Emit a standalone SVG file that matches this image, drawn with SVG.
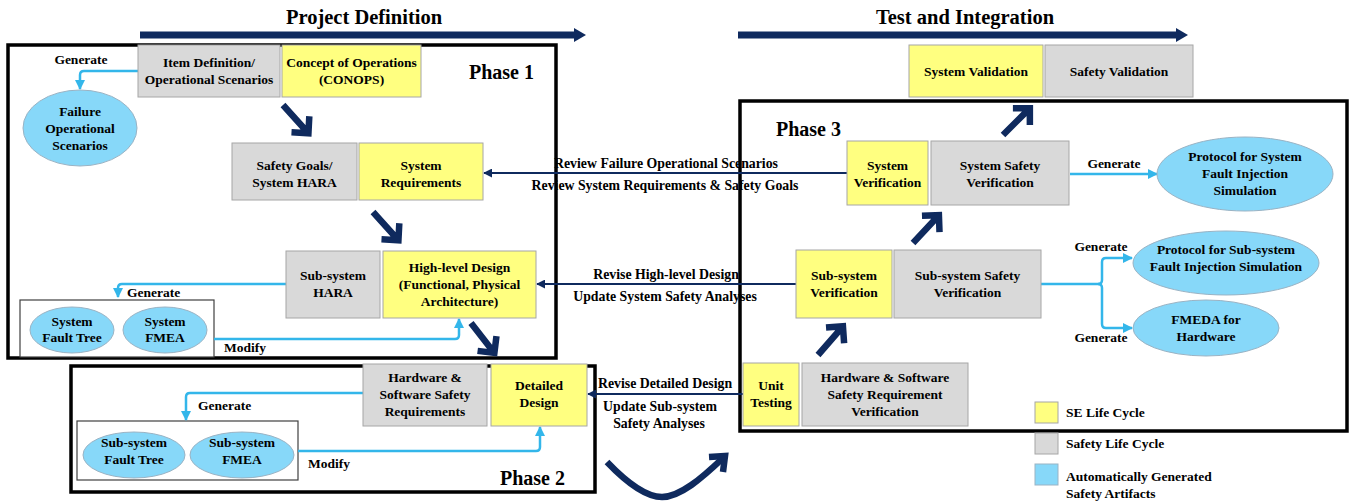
<svg xmlns="http://www.w3.org/2000/svg" xmlns:xlink="http://www.w3.org/1999/xlink" width="1355" height="504" viewBox="0 0 1355 504">
  <style>
    text { font-family: "Liberation Serif", "Times New Roman", serif; font-weight: bold; fill: #000; }
    .lbl { font-size: 13.5px; text-anchor: middle; }
    .lbl-l { font-size: 13.5px; text-anchor: start; }
    .fb { font-size: 13.8px; text-anchor: middle; }
    .title { font-size: 20.5px; text-anchor: middle; }
    .phase { font-size: 20px; }
    .se { fill: #ffff80; stroke: #a6a6a6; stroke-width: 1; }
    .safety { fill: #d9d9d9; stroke: #a6a6a6; stroke-width: 1; }
    .artifact { fill: #87d8f9; stroke: #9ab3c4; stroke-width: 1; }
    .frame { fill: none; stroke: #000; stroke-width: 3.5; }
    .inner { fill: #fff; stroke: #404040; stroke-width: 1.2; }
    .blue { fill: none; stroke: #33b6ea; stroke-width: 2.5; }
    .navy { fill: none; stroke: #0f2a5e; stroke-width: 2; }
    .big { fill: none; stroke: #0f2a5e; stroke-width: 6.5; stroke-linecap: butt; stroke-linejoin: miter; }
  </style>
  <defs>
    <marker id="blueHead" viewBox="0 0 10 10" refX="9" refY="5" markerWidth="10" markerHeight="10" markerUnits="userSpaceOnUse" orient="auto">
      <path d="M0,0 L10,5 L0,10 Z" fill="#33b6ea"/>
    </marker>
    <marker id="navyHead" viewBox="0 0 10 10" refX="9" refY="5" markerWidth="9" markerHeight="9" markerUnits="userSpaceOnUse" orient="auto">
      <path d="M0,0 L10,5 L0,10 Z" fill="#0f2a5e"/>
    </marker>
    <marker id="timeHead" viewBox="0 0 12 14" refX="2" refY="7" markerWidth="12" markerHeight="14" markerUnits="userSpaceOnUse" orient="auto">
      <path d="M0,0 L12,7 L0,14 Z" fill="#0f2a5e"/>
    </marker>
    <!-- thick chevron arrow pointing along +x, 40px long -->
    <path id="stepArrow" class="big" d="M0,0 L37,0 M26,-12 L38,0 L26,12"/>
  </defs>

  <!-- timeline headings -->
  <g id="timeline">
    <text class="title" x="364" y="24">Project Definition</text>
    <line x1="140" y1="35" x2="576" y2="35" stroke="#0f2a5e" stroke-width="7" marker-end="url(#timeHead)"/>
    <text class="title" x="965" y="24">Test and Integration</text>
    <line x1="738" y1="35" x2="1178" y2="35" stroke="#0f2a5e" stroke-width="7" marker-end="url(#timeHead)"/>
  </g>

  <!-- phase frames -->
  <g id="phase1">
    <rect class="frame" x="8" y="45" width="548" height="313"/>
    <text class="phase" x="469" y="79">Phase 1</text>
  </g>
  <g id="phase2">
    <rect class="frame" x="71" y="366" width="524" height="126"/>
    <text class="phase" x="500" y="485">Phase 2</text>
  </g>
  <g id="phase3">
    <rect class="frame" x="740" y="101" width="607" height="330"/>
    <text class="phase" x="776" y="136">Phase 3</text>
  </g>

  <!-- grouping boxes for generated artifacts -->
  <g id="sys-artifacts">
    <rect class="inner" x="20" y="300" width="194" height="57"/>
  </g>
  <g id="sub-artifacts">
    <rect class="inner" x="77" y="421" width="221" height="59"/>
  </g>

  <!-- connectors -->
  <g id="connectors">
    <!-- generate / modify links -->
    <path class="blue" d="M138,71 H84 Q80,71 80,75 V89" marker-end="url(#blueHead)"/>
    <text class="lbl" x="81" y="64">Generate</text>

    <path class="blue" d="M286,284 H122 Q118,284 118,288 V297" marker-end="url(#blueHead)"/>
    <text class="lbl-l" x="127" y="297">Generate</text>
    <path class="blue" d="M214,339 H455 Q459,339 459,335 V319" marker-end="url(#blueHead)"/>
    <text class="lbl-l" x="224" y="352">Modify</text>

    <path class="blue" d="M363,393 H190 Q186,393 186,397 V420" marker-end="url(#blueHead)"/>
    <text class="lbl-l" x="198" y="410">Generate</text>
    <path class="blue" d="M298,451 H536 Q540,451 540,447 V427" marker-end="url(#blueHead)"/>
    <text class="lbl-l" x="308" y="468">Modify</text>

    <path class="blue" d="M1070,174 H1157" marker-end="url(#blueHead)"/>
    <text class="lbl" x="1114" y="168">Generate</text>

    <path class="blue" d="M1041,284 H1098 Q1102,284 1102,280 V262 Q1102,258 1106,258 H1132" marker-end="url(#blueHead)"/>
    <path class="blue" d="M1098,284 Q1102,284 1102,288 V324 Q1102,328 1106,328 H1132" marker-end="url(#blueHead)"/>
    <text class="lbl" x="1101" y="251">Generate</text>
    <text class="lbl" x="1101" y="342">Generate</text>

    <!-- feedback links -->
    <path class="navy" d="M847,173 H484" marker-end="url(#navyHead)"/>
    <text class="fb" x="666" y="168">Review Failure Operational Scenarios</text>
    <text class="fb" x="665" y="190">Review System Requirements &amp; Safety Goals</text>

    <path class="navy" d="M796,284 H537" marker-end="url(#navyHead)"/>
    <text class="fb" x="666" y="279">Revise High-level Design</text>
    <text class="fb" x="665" y="301">Update System Safety Analyses</text>

    <path class="navy" d="M743,394 H588" marker-end="url(#navyHead)"/>
    <text class="fb" x="665" y="388">Revise Detailed Design</text>
    <text class="fb" x="660" y="411">Update Sub-system</text>
    <text class="fb" x="659" y="428">Safety Analyses</text>

    <!-- process flow arrows -->
    <use xlink:href="#stepArrow" transform="translate(283,105) rotate(48)"/>
    <use xlink:href="#stepArrow" transform="translate(373,212) rotate(48)"/>
    <use xlink:href="#stepArrow" transform="translate(471,323) rotate(52)"/>
    <use xlink:href="#stepArrow" transform="translate(818,355) rotate(-49)"/>
    <use xlink:href="#stepArrow" transform="translate(913,243) rotate(-47)"/>
    <use xlink:href="#stepArrow" transform="translate(1003,135) rotate(-45)"/>
    <path class="big" d="M607,462 C628,484 646,497 662,497 C680,497 702,478 723,458"/>
    <path class="big" d="M709,457 L725,456 L723,472"/>
  </g>

  <!-- Phase 1 nodes -->
  <g id="item-definition">
    <rect class="safety" x="138" y="45" width="142" height="52"/>
    <text class="lbl" x="209" y="67">Item Definition/<tspan x="209" y="84">Operational Scenarios</tspan></text>
  </g>
  <g id="conops">
    <rect class="se" x="282" y="45" width="139" height="52"/>
    <text class="lbl" x="351.5" y="67">Concept of Operations<tspan x="351.5" y="84">(CONOPS)</tspan></text>
  </g>
  <g id="failure-scenarios">
    <ellipse class="artifact" cx="80" cy="128" rx="57" ry="38"/>
    <text class="lbl" x="80" y="116">Failure<tspan x="80" y="133">Operational</tspan><tspan x="80" y="150">Scenarios</tspan></text>
  </g>
  <g id="safety-goals">
    <rect class="safety" x="232" y="143" width="125" height="57"/>
    <text class="lbl" x="294.5" y="170">Safety Goals/<tspan x="294.5" y="187">System HARA</tspan></text>
  </g>
  <g id="system-requirements">
    <rect class="se" x="359" y="143" width="124" height="57"/>
    <text class="lbl" x="421" y="170">System<tspan x="421" y="187">Requirements</tspan></text>
  </g>
  <g id="subsystem-hara">
    <rect class="safety" x="286" y="251" width="94" height="67"/>
    <text class="lbl" x="333" y="280">Sub-system<tspan x="333" y="297">HARA</tspan></text>
  </g>
  <g id="high-level-design">
    <rect class="se" x="383" y="251" width="153" height="67"/>
    <text class="lbl" x="459.5" y="272">High-level Design<tspan x="459.5" y="289">(Functional, Physical</tspan><tspan x="459.5" y="306">Architecture)</tspan></text>
  </g>
  <g id="system-fault-tree">
    <ellipse class="artifact" cx="72" cy="330" rx="42" ry="23"/>
    <text class="lbl" x="72" y="326">System<tspan x="72" y="342">Fault Tree</tspan></text>
  </g>
  <g id="system-fmea">
    <ellipse class="artifact" cx="165" cy="330" rx="42" ry="23"/>
    <text class="lbl" x="165" y="326">System<tspan x="165" y="342">FMEA</tspan></text>
  </g>

  <!-- Phase 2 nodes -->
  <g id="hw-sw-requirements">
    <rect class="safety" x="363" y="364" width="124" height="62"/>
    <text class="lbl" x="425" y="382">Hardware &amp;<tspan x="425" y="399">Software Safety</tspan><tspan x="425" y="416">Requirements</tspan></text>
  </g>
  <g id="detailed-design">
    <rect class="se" x="491" y="364" width="96" height="62"/>
    <text class="lbl" x="539" y="390">Detailed<tspan x="539" y="407">Design</tspan></text>
  </g>
  <g id="subsystem-fault-tree">
    <ellipse class="artifact" cx="134" cy="455" rx="51" ry="23"/>
    <text class="lbl" x="134" y="447">Sub-system<tspan x="134" y="464">Fault Tree</tspan></text>
  </g>
  <g id="subsystem-fmea">
    <ellipse class="artifact" cx="242" cy="455" rx="52" ry="23"/>
    <text class="lbl" x="242" y="447">Sub-system<tspan x="242" y="464">FMEA</tspan></text>
  </g>

  <!-- Phase 3 / validation nodes -->
  <g id="system-validation">
    <rect class="se" x="909" y="45" width="134" height="52"/>
    <text class="lbl" x="976" y="76">System Validation</text>
  </g>
  <g id="safety-validation">
    <rect class="safety" x="1045" y="45" width="148" height="52"/>
    <text class="lbl" x="1119" y="76">Safety Validation</text>
  </g>
  <g id="system-verification">
    <rect class="se" x="847" y="141" width="81" height="64"/>
    <text class="lbl" x="887.5" y="170">System<tspan x="887.5" y="187">Verification</tspan></text>
  </g>
  <g id="system-safety-verification">
    <rect class="safety" x="931" y="141" width="138" height="64"/>
    <text class="lbl" x="1000" y="170">System Safety<tspan x="1000" y="187">Verification</tspan></text>
  </g>
  <g id="system-fi-protocol">
    <ellipse class="artifact" cx="1245" cy="174" rx="88" ry="37"/>
    <text class="lbl" x="1245" y="161">Protocol for System<tspan x="1245" y="178">Fault Injection</tspan><tspan x="1245" y="195">Simulation</tspan></text>
  </g>
  <g id="subsystem-verification">
    <rect class="se" x="796" y="250" width="96" height="68"/>
    <text class="lbl" x="844" y="280">Sub-system<tspan x="844" y="297">Verification</tspan></text>
  </g>
  <g id="subsystem-safety-verification">
    <rect class="safety" x="894" y="250" width="147" height="68"/>
    <text class="lbl" x="967.5" y="280">Sub-system Safety<tspan x="967.5" y="297">Verification</tspan></text>
  </g>
  <g id="subsystem-fi-protocol">
    <ellipse class="artifact" cx="1226" cy="263" rx="93" ry="32"/>
    <text class="lbl" x="1226" y="254">Protocol for Sub-system<tspan x="1226" y="271">Fault Injection Simulation</tspan></text>
  </g>
  <g id="fmeda">
    <ellipse class="artifact" cx="1206" cy="328" rx="73" ry="28"/>
    <text class="lbl" x="1206" y="324">FMEDA for<tspan x="1206" y="341">Hardware</tspan></text>
  </g>
  <g id="unit-testing">
    <rect class="se" x="743" y="363" width="56" height="63"/>
    <text class="lbl" x="771" y="390">Unit<tspan x="771" y="407">Testing</tspan></text>
  </g>
  <g id="hw-sw-verification">
    <rect class="safety" x="802" y="363" width="166" height="63"/>
    <text class="lbl" x="885" y="382">Hardware &amp; Software<tspan x="885" y="399">Safety Requirement</tspan><tspan x="885" y="416">Verification</tspan></text>
  </g>

  <!-- legend -->
  <g id="legend">
    <rect class="se" x="1035" y="402" width="23" height="21"/>
    <text class="lbl-l" x="1066" y="417">SE Life Cycle</text>
    <rect class="safety" x="1035" y="433" width="23" height="21"/>
    <text class="lbl-l" x="1066" y="448">Safety Life Cycle</text>
    <rect class="artifact" x="1035" y="464" width="23" height="21"/>
    <text class="lbl-l" x="1066" y="481">Automatically Generated<tspan x="1066" y="498">Safety Artifacts</tspan></text>
  </g>
</svg>
